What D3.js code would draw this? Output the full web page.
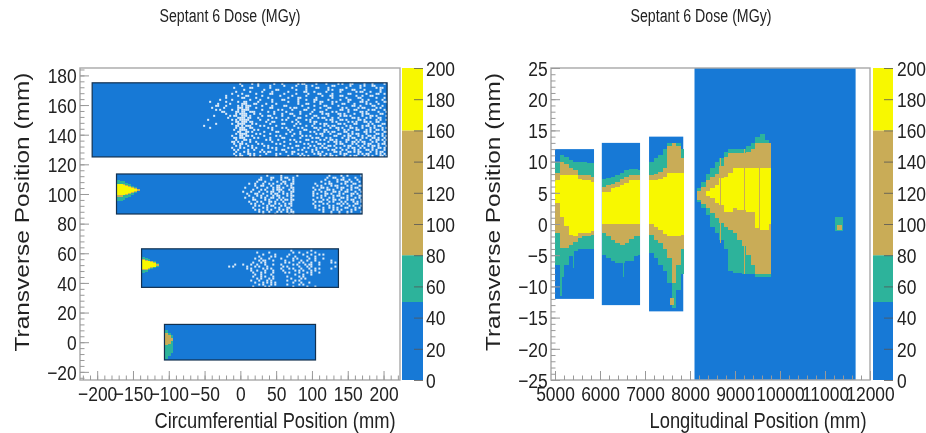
<!DOCTYPE html>
<html lang="en">
<head>
    <meta charset="UTF-8">
    <title>Septant 6 Dose</title>
    <style>
        body { margin: 0; background: #fff; }
        svg { display: block; filter: blur(0.6px); }
        text { font-family: "Liberation Sans", sans-serif; fill: #222; }
    </style>
</head>
<body>
<svg id="chart" width="926" height="433"></svg>
<script src="https://d3js.org/d3.v7.min.js"></script>

<script>
    /* global d3 */

    // palette bands in MGy: blue, teal, tan, yellow
    let bandEdges = [0, 50, 80, 160, 200];
    let bandColors = ["#1779d6", "#2db39b", "#c9ac57", "#f8f800"];
    let paletteTicks = [0, 20, 40, 60, 80, 100, 120, 140, 160, 180, 200];

    let leftXTicks = [-200, -150, -100, -50, 0, 50, 100, 150, 200];
    let leftYTicks = [-20, 0, 20, 40, 60, 80, 100, 120, 140, 160, 180];
    let rightXTicks = [5000, 6000, 7000, 8000, 9000, 10000, 11000, 12000];
    let rightYTicks = [-25, -20, -15, -10, -5, 0, 5, 10, 15, 20, 25];

    // x0, x1, top, bottom
    let leftBoxes = [
        [-207, 205, 175, 125],
        [-173, 170, 113.5, 86.5],
        [-138, 137, 63, 37],
        [-106, 105, 12, -12]
    ];
    let rightBoxes = [
        [5000, 5867, 12, -12],
        [6040, 6890, 13, -13],
        [7090, 7850, 14, -14],
        [8100, 11680, 25, -25]
    ];

    // column start, teal top, tan top, yellow top, yellow bottom, tan bottom, teal bottom
    let hotspot2 = [
        [-173, 109.5, 107, 106.5, 99, 98, 95],
        [-169, 109, 107, 106.5, 99, 98, 95.5],
        [-165, 108.5, 106.5, 106, 99.5, 99, 96],
        [-161, 107.5, 106, 105.5, 100, 99.5, 97],
        [-157, 106.5, 105.5, 105, 100.5, 100, 98],
        [-153, 105.5, 105, 104.2, 101.2, 100.5, 99.5],
        [-149, 104.5, 104, 103.2, 102.2, 101.5, 101],
        [-145, 103.6, 103.4, 103, 103, 102, 101.8]
    ];
    let hotspot3 = [
        [-138, 57.5, 56, 55.5, 49.5, 48.5, 47],
        [-134, 56.5, 55.5, 55, 49.5, 49, 47.5],
        [-130, 56, 55, 54.5, 50, 49.5, 48.5],
        [-126, 55, 54.5, 54, 50.5, 50, 49.5],
        [-122, 54.5, 54, 53.5, 51, 50.5, 50],
        [-118, 53.5, 53, 52, 52, 51.5, 51]
    ];
    let hotspot4 = [
        [-106, 8, 6.5, 0, 0, -2, -11],
        [-102, 6.5, 5, 0, 0, -1, -9],
        [-98, 5, 3, 0, 0, 1, -7]
    ];
    let module1 = [
        [5000, 10, 8.2, 7, 3.3, -1.5, -6.5],
        [5100, 11, 10, 7.8, 1.2, -3.9, -8.5],
        [5200, 10.8, 9.6, 7.8, -0.4, -3.9, -6.5],
        [5300, 10.2, 9, 7.8, -1.8, -3.4, -5.2],
        [5400, 10, 8.6, 7.8, -2, -2.9, -4.4],
        [5500, 10, 7.9, 7.2, -1.5, -2.2, -4],
        [5600, 10, 7.9, 7, -1.4, -2, -4],
        [5700, 9.8, 7.9, 7, -1.4, -2, -4],
        [5800, 9.8, 7.5, 6.8, -1.2, -1.8, -4]
    ];
    let module2 = [
        [6040, 7.2, 6, 5.2, 0, -1.5, -5],
        [6140, 7.4, 6.2, 5.2, 0, -2, -5.5],
        [6240, 7.6, 6.4, 5.8, 0, -2.6, -6],
        [6340, 7.8, 6.8, 6, 0, -3, -6.3],
        [6440, 8.2, 7.2, 6.2, 0, -3.4, -6.2],
        [6540, 8.6, 7.6, 6.6, 0, -3, -6],
        [6640, 8.8, 7.9, 7, 0, -2.4, -6],
        [6740, 8.8, 7.9, 7, 0, -2, -5.2],
        [6840, 8.7, 7.9, 7, 0, -2, -5]
    ];
    let module3 = [
        [7090, 10, 7.9, 7, 0, -1.8, -4.7],
        [7190, 10.5, 8, 7, -0.5, -2.5, -5.5],
        [7290, 11, 8.4, 7.2, -1, -3, -6.5],
        [7390, 12, 9, 7.6, -1.6, -4, -7.5],
        [7490, 13, 12.5, 8.1, -2, -5.5, -9.5],
        [7590, 13, 13, 8.2, -2, -9.5, -13.5],
        [7690, 13, 12.5, 8.1, -2, -6.5, -10.5],
        [7790, 12, 10.5, 8.1, -1.8, -4, -8]
    ];
    let module4 = [
        [8150, 5.8, 5.3, 4.6, 4.6, 3.9, 3.5],
        [8250, 6.8, 6, 4.6, 4.6, 3.2, 2.6],
        [8350, 8, 7, 5.3, 4.5, 2.5, 1.5],
        [8450, 9, 7.5, 5.7, 4.2, 1.8, -0.5],
        [8550, 10, 8, 6.3, 3.4, 1, -1.5],
        [8650, 10.5, 9.3, 7.3, 3, 0.2, -2.5],
        [8750, 11.5, 10.8, 7.5, 2, -0.5, -4],
        [8850, 12, 11.4, 8.1, 2, -1, -7.5],
        [8950, 12, 11.4, 8.9, 2.5, -1.5, -7.8],
        [9050, 12, 11.4, 8.9, 2.2, -2.6, -7.9],
        [9150, 12, 11.4, 8.9, 2.2, -3.5, -8],
        [9250, 12.5, 11.6, 8.9, 2, -5, -8],
        [9350, 13, 12, 8.9, 2, -6.5, -8],
        [9450, 14, 13, 8.9, -0.7, -8, -8.5],
        [9550, 14.5, 13, 8.9, -1, -8, -8.5],
        [9650, 13.5, 13, 8.9, -1, -8, -8.5],
        [9750, 13, 13, 8.9, 0, -8, -8.5]
    ];

    // x0, x1, top, bottom, band index
    let rightSpots = [
        [7560, 7650, -11.8, -13, 2],
        [11220, 11400, 1.2, -1.2, 1],
        [11260, 11380, -0.2, -1, 2],
        [5120, 5150, -8, -11.6, 1],
        [5410, 5430, -4, -7, 1],
        [6500, 6530, -6, -8.5, 1],
        [8660, 8690, 10.5, -3, 2],
        [9200, 9220, 12, -8, 2],
        [9540, 9560, 9, -1, 2]
    ];

    // '#' cell reads as an empty (white) speck, 2px cells left to right, top to bottom
    let specks1 = [
        "..................#.....#..#.......#...#.......#.##.....#....#.....#.#...##.....#...#.....#.",
        "...................#.......#.....#......#.....#....#..#.........##.......#....#.#...##......",
        "...............#.......##........#..........#......#....##....#........#......#.......#.##..",
        "....................#.........#.....##........#....#..........#.#...##....##....#.......#...",
        "................#......#.....#....#.......#.......##...#.....#......#.......#.##...#....#...",
        "..............#....#......#......##.....#.....#.....#....##.....#.......##.......#....##..#.",
        "...........#.....#...##......#........#.....#......#.......#...##...##......#..#...##.......",
        "...........#.......##.....#.....#.........#....##.......#.......#......#.....##.......#...#.",
        "........#.....#........#....#.....#....##......#...#...##.....#.....#...##.....#..#......#..",
        "...#.......#.....#..##.....#......#.......#....#.......#..##....#.#.....#.....##.#....#...##",
        ".......#.....#.....###...##....#....#..........#...##.....#.....#....##....#.....#.#...#....",
        "......##...#.....#.#.###.....#....#.....##.......#.....#....##.....#......##..#.....##...#..",
        "....#.....#......###.##...#......##........#.##.....#.....#...##.....#.#.....#.##.....#.#...",
        "......#.#.....#..#.####......#.......#.#....#.....##...#.....#......##..#..##.....#.##....#.",
        ".........##.....##.##..###......#..#.....#......#.....#...##....#.#.....#.....##.#.....#...#",
        "...........#....#.####...#..#......#...#...##...#....#.....#.##....##.#....#...#.##.....##..",
        ".....#.......#.##..###.#.....#..##.....#.....#.....#...##.....#.....#.##.#.....#...##.#....#",
        "............#....####.##...#......#.#.....#....##.....#..#.##...#..#......##.#...#.#...##...",
        "..#...........#.#.#####.....#...#......#.#....#....#.#.......#.##...##.#.....##.#.....#.#..#",
        "................##.###.##......#..##........#..#.....#.##.......#.#.....#.#.#...##.#..##....",
        "......#.......#..####...#.#......#.....##.....#.#......#..#.##.....##.#....##.....#.#....##.",
        "#...............##.#.###....#.#.....#........#.....#..#.....#.#.##.....#.#.....#.##..#.##...",
        "...#............#.###..##.......#.#....#.#.....#.#.....##.#....#..##.#...##.#..#...#.#...#.#",
        "...............#..####...#.#......#.......#.#.....##.....#..##.....#..#.#...##...#.#..##.#..",
        ".................##..##.#.....#.....##.....#....#....#.#....#.#.##....##..#.....##.#.#....##",
        "................#.####....#.#....#.......#...#..#.......#.##...#...##...#.#.##...#....##.#..",
        "..............#...##.##.#.....#.....#.#.....#....#.#.#.....#.....##...#.##...#.#..##.#...#.#",
        "...............##.###....#.#.....#.....##.......#.....#.##...#.#.....#..#.##...#.#..##.#..#.",
        "................#...##.#.......#.#...#.....#.#.....##.....#.#..##.#....##...#.#....#..##.#.#",
        "..............##.#.#...#..#.......#.....#.....#.#.....#.#.....#..##.#..#..##.#.##...#.#...#.",
        "...............#..##.#.....#.#......#.#....#......#.#....##.#.....#.##....#.#...#.##...#.##.",
        "................#.#...#.#.....#.#.......#.....##.....#.#...#..##.#....#.##...#.#..#.##.#...#",
        "..............#...#.#...#.#.....#.#.#.....#.#.....#.#...#.#.##....#.#...#.##..#.#...#..##.#.",
        "...............#.#....#..#...#......#..##......#.#....#.#.....#.##...#.#...#.#...##.#.#...#.",
        "................#...#.#.....#.#.##.......#..##.....#..#..#.#.....##.#...##.#.##....#..#.##..",
        "...............#..#...##.#.....#....#.#.....#..#.#.....#.##..#.#....#.##.....#.#.##...#.#.#.",
        "................#.##...#.#..#.......#.....#.....#.#.#.....#.#..##.#...#..#.##...#.#.#...##.#"
    ];
    let specks2 = [
        "..............#......#.......#...............#.....#..#......#.",
        "...........#....##...#.##..#................#..##...#.....#...#",
        "..........##....#....#...#.#...............#.....#.##..#...#..#",
        ".........#...#.....#..##...#.............#...#...#...##.#...#.#",
        ".....#..#...#..#.#...#.#..##..........#....#.##....#.#...##...#",
        "........#..##...#..##...#.#............#.#....#.##....#.#...##.",
        "...#.....#....#..#.##.#...##.........#...##.#....#.##...#.##..#",
        ".......#...#.#...#.###...#.#..........#.#...##.#...#..#.#...#..",
        "..#...#...#...#.##..#.#...##.........#...#.#...##.#..##...#..##",
        "....#...##..#...#.##..#.#.#..........#.#...##.#...#.#...##.#...",
        ".....#...#.#..#..#.##...#.##.........#...#.#...#.##...#.#...##.",
        "...#...#...#.#..##..#.#...#............#.#...#.#...##.#...#.#..",
        ".......##....#.#...#.#.##.##.........#....#.#..##.#...#.##...#.",
        ".....#...#.#...##.#...#...#...........#.##...#.#...#.#...#.#.##",
        "......#.#...#..#..#.#..#.##..........#....#.#....##.#.#...##..#",
        "........#.#...#.##...#.#..#...........#.#....#.#...#...#.#...#.",
        ".......#....#.#...#.#...##............#...#..#.#.#...##...#.#..",
        "........#.#...#.#...#.#.#.#.............#.#....#.#.#....#.#...#",
        "..........#.#..#...#.#..#.##..............#...#...#...#.#....##",
        "............#.....#......#.#..................#...#...#.......#"
    ];
    let specks3 = [
        "...............................#.........#............",
        "..............#.....#...........#..#...#...#...........",
        ".................#.....#......#......#...#...#.#.......",
        "...............#.....#.#.....#...#.....#...#...........",
        ".............#..#...#.....#.....#.#.....#..#...#.......",
        "...............#.##...#.....#...#...#..#...#.......#...",
        "............#...#.#.........#.#....#.#...#...#.....#.#.",
        "...#...#...#..#...#...#...#.....#.#...#.##...#.........",
        "#.#......#...#.#...#.......#.#.....#...#.#...........#.",
        ".........#.#.....#.#.#....#...#.#...#...#..#.#.....#...",
        "...........#..#...#...#....#.....#.#.#...#.#...........",
        "............#...#.#...#.....#.#....#...#.#...#.........",
        ".............#..#....#...........#...#...#..............",
        "............#...#.#...#......#.....#.#.................",
        "..............#.#...#.#........#....#.#................",
        "...........#...#...#.#.......#...#.#...................",
        ".............#...#.#.#.#........#...#...#..............",
        "...............#.#...#.#.....#.....#.#.................",
        "............#.....#.#...........#......#...#..........."
    ];

    let svg = d3.select("#chart");

    // both panels share these pixel bounds
    let plotTop = 68, plotBottom = 380;

    function inner(g, scale, side, ticks, minor) {
        let axis = side === "left" ? d3.axisLeft(scale) : d3.axisBottom(scale);
        let shift = side === "left" ? null : "translate(0," + plotBottom + ")";
        g.append("g").attr("class", "minor")
            .attr("transform", shift)
            .call(axis.tickValues(minor).tickSize(-4.5).tickFormat(""))
            .call(s => s.selectAll("line").attr("stroke", "#999"))
            .call(s => s.select(".domain").remove());
        let major = g.append("g")
            .attr("transform", shift)
            .call(axis.tickValues(ticks).tickSize(-9).tickFormat(d3.format("d")));
        major.selectAll("line").attr("stroke", "#999");
        major.select(".domain").remove();
        return major;
    }

    function squeezeLabels(sel, side) {
        sel.selectAll("text").style("font-size", "21px")
            .attr("transform", "scale(0.83,1)")
            .attr("x", side === "left" ? -4 : null)
            .attr("y", side === "left" ? null : 6)
            .attr("dy", side === "left" ? "0.35em" : "0.71em");
    }

    function drawColumns(g, x, y, cols, width, xEnd) {
        [[1, 6, 1], [2, 5, 2], [3, 4, 3]].forEach(function (level) {
            g.append("g").attr("shape-rendering", "crispEdges")
                .selectAll("rect").data(cols).join("rect")
                .attr("x", d => x(d[0]))
                .attr("width", d => x(Math.min(d[0] + width, xEnd)) - x(d[0]) + 0.3)
                .attr("y", d => y(d[level[0]]))
                .attr("height", d => Math.max(0, y(d[level[1]]) - y(d[level[0]])))
                .attr("fill", bandColors[level[2]]);
        });
    }

    function drawSpecks(g, x, y, rows, x0, y0) {
        let cw = 2.8, rh = 1.35;
        rows.forEach(function (row, r) {
            let cells = d3.range(row.length).filter(i => row[i] === "#");
            g.append("g").selectAll("rect").data(cells).join("rect")
                .attr("x", i => x(x0 + i * cw))
                .attr("y", y(y0 - r * rh))
                .attr("width", x(x0 + cw) - x(x0))
                .attr("height", y(0) - y(rh))
                .attr("fill", "#fff")
                .attr("opacity", 0.85);
        });
    }

    function drawPalette(g, x0, x1, labelX) {
        let p = d3.scaleLinear().domain([0, 200]).range([plotBottom, plotTop]);
        g.selectAll("rect").data(bandColors).join("rect")
            .attr("x", x0)
            .attr("width", x1 - x0)
            .attr("y", (d, i) => p(bandEdges[i + 1]))
            .attr("height", (d, i) => p(bandEdges[i]) - p(bandEdges[i + 1]))
            .attr("fill", d => d);
        let a = g.append("g").attr("transform", "translate(" + x1 + ",0)")
            .call(d3.axisRight(p).tickValues(paletteTicks).tickSize(-9).tickFormat(d3.format("d")));
        a.select(".domain").remove();
        a.selectAll("line").attr("stroke", "#555").attr("stroke-width", 0.8);
        a.selectAll("text").style("font-size", "21px")
            .attr("transform", "scale(0.83,1)")
            .attr("x", (labelX - x1) / 0.83)
            .attr("dy", "0.35em");
    }

    function frame(g, x) {
        g.append("rect")
            .attr("x", x.range()[0]).attr("y", plotTop)
            .attr("width", x.range()[1] - x.range()[0])
            .attr("height", plotBottom - plotTop)
            .attr("fill", "none")
            .attr("stroke", "#a8a8a8")
            .attr("stroke-width", 1.4);
    }

    function title(str, cx, cy, len, size, rotate) {
        svg.append("text")
            .attr("transform", "translate(" + cx + "," + cy + ")" + (rotate ? " rotate(-90)" : ""))
            .attr("text-anchor", "middle")
            .attr("textLength", len)
            .attr("lengthAdjust", "spacingAndGlyphs")
            .style("font-size", size + "px")
            .text(str);
    }

    // left panel
    let xL = d3.scaleLinear().domain([-224, 223]).range([80, 400]);
    let yL = d3.scaleLinear().domain([-25.5, 185]).range([plotBottom, plotTop]);
    let leftPanel = svg.append("g");

    leftPanel.append("g").selectAll("rect").data(leftBoxes).join("rect")
        .attr("x", d => xL(d[0]))
        .attr("y", d => yL(d[2]))
        .attr("width", d => xL(d[1]) - xL(d[0]))
        .attr("height", d => yL(d[3]) - yL(d[2]))
        .attr("fill", bandColors[0]);

    drawSpecks(leftPanel, xL, yL, specks1, -52, 175);
    drawSpecks(leftPanel, xL, yL, specks2, -3, 113);
    drawSpecks(leftPanel, xL, yL, specks3, -17, 62.5);
    drawColumns(leftPanel, xL, yL, hotspot2, 4, 170);
    drawColumns(leftPanel, xL, yL, hotspot3, 4, 137);
    drawColumns(leftPanel, xL, yL, hotspot4, 4, 105);

    leftPanel.append("g").selectAll("rect").data(leftBoxes).join("rect")
        .attr("x", d => xL(d[0]))
        .attr("y", d => yL(d[2]))
        .attr("width", d => xL(d[1]) - xL(d[0]))
        .attr("height", d => yL(d[3]) - yL(d[2]))
        .attr("fill", "none")
        .attr("stroke", "#12304f")
        .attr("stroke-width", 1.2);

    frame(leftPanel, xL);
    squeezeLabels(inner(leftPanel.append("g").attr("transform", "translate(80,0)"), yL, "left",
        leftYTicks, d3.range(-24, 185, 4)), "left");
    squeezeLabels(inner(leftPanel.append("g"), xL, "bottom",
        leftXTicks, d3.range(-220, 221, 10)), "bottom");
    drawPalette(leftPanel.append("g"), 402, 423, 426);

    // right panel
    let xR = d3.scaleLinear().domain([4911, 12000]).range([551, 870]);
    let yR = d3.scaleLinear().domain([-25, 25]).range([plotBottom, plotTop]);
    let rightPanel = svg.append("g");

    rightPanel.append("g").selectAll("rect").data(rightBoxes).join("rect")
        .attr("x", d => xR(d[0]))
        .attr("y", d => yR(d[2]))
        .attr("width", d => xR(d[1]) - xR(d[0]))
        .attr("height", d => yR(d[3]) - yR(d[2]))
        .attr("fill", bandColors[0]);

    drawColumns(rightPanel, xR, yR, module1, 100, 5867);
    drawColumns(rightPanel, xR, yR, module2, 100, 6890);
    drawColumns(rightPanel, xR, yR, module3, 100, 7850);
    drawColumns(rightPanel, xR, yR, module4, 100, 9790);

    rightPanel.append("g").attr("shape-rendering", "crispEdges")
        .selectAll("rect").data(rightSpots).join("rect")
        .attr("x", d => xR(d[0]))
        .attr("y", d => yR(d[2]))
        .attr("width", d => xR(d[1]) - xR(d[0]))
        .attr("height", d => yR(d[3]) - yR(d[2]))
        .attr("fill", d => bandColors[d[4]]);

    frame(rightPanel, xR);
    squeezeLabels(inner(rightPanel.append("g").attr("transform", "translate(551,0)"), yR, "left",
        rightYTicks, d3.range(-25, 25.5, 1)), "left");
    squeezeLabels(inner(rightPanel.append("g"), xR, "bottom",
        rightXTicks, d3.range(5000, 12001, 200)), "bottom");
    drawPalette(rightPanel.append("g"), 873, 893, 897);

    // titles
    title("Septant 6 Dose (MGy)", 230, 22, 141, 18);
    title("Septant 6 Dose (MGy)", 701, 22, 141, 18);
    title("Circumferential Position (mm)", 275, 428, 241, 22);
    title("Longitudinal Position (mm)", 758, 428, 217, 22);
    title("Transverse Position (mm)", 29, 212, 279, 21, true);
    title("Transverse Position (mm)", 500, 212, 278, 21, true);
</script>
</body>
</html>
